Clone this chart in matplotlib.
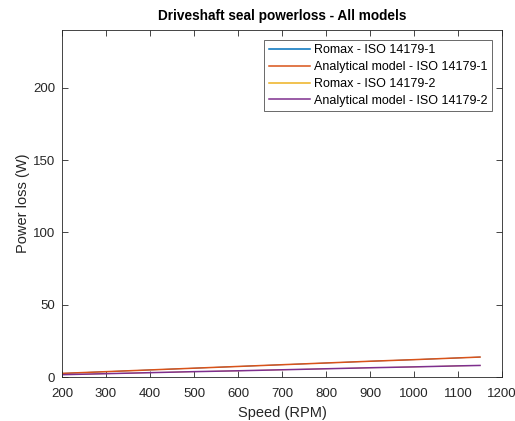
import numpy as np
import matplotlib.pyplot as plt

plt.rcParams['font.family'] = ['Liberation Sans', 'DejaVu Sans']

speed = [200, 300, 400, 500, 600, 700, 800, 900, 1000, 1100, 1150]
romax_1 = [2.5, 3.7, 4.9, 6.1, 7.3, 8.5, 9.7, 10.9, 12.0, 13.2, 13.8]
analytical_1 = [2.5, 3.7, 4.9, 6.1, 7.3, 8.5, 9.7, 10.9, 12.0, 13.2, 13.8]
romax_2 = [1.6, 2.3, 3.0, 3.7, 4.3, 5.0, 5.7, 6.4, 7.0, 7.7, 8.0]
analytical_2 = [1.6, 2.3, 3.0, 3.7, 4.3, 5.0, 5.7, 6.4, 7.0, 7.7, 8.0]

labels = ['Romax - ISO 14179-1', 'Analytical model - ISO 14179-1',
          'Romax - ISO 14179-2', 'Analytical model - ISO 14179-2']
colors = ['#0072BD', '#D95319', '#EDB120', '#7E2F8E']
widths = [0.6, 1.1, 0.6, 1.1]

fig = plt.figure(figsize=(5.15, 4.21), dpi=100)
ax = fig.add_axes([0.1204, 0.1045, 0.8544, 0.8242])

for y, lab, c, w in zip([romax_1, analytical_1, romax_2, analytical_2], labels, colors, widths):
    ax.plot(speed, y, color=c, lw=w, label=lab)

ax.set_xlim(200, 1200)
ax.set_ylim(0, 240)
ax.set_xticks(np.arange(200, 1201, 100))
ax.set_yticks([0, 50, 100, 150, 200])
ax.tick_params(direction='in', top=True, right=True, length=4, width=0.6,
               labelsize=9.5, colors='#262626')
ax.tick_params(axis='x', pad=8)
ax.tick_params(axis='y', pad=5)
for s in ax.spines.values():
    s.set_linewidth(0.6)
    s.set_color('#262626')

ax.set_xlabel('Speed (RPM)', fontsize=10.5, color='#262626', labelpad=4)
ax.set_ylabel('Power loss (W)', fontsize=10.5, color='#262626', labelpad=2)
ax.set_title('Driveshaft seal powerloss - All models', fontsize=9.8,
             fontweight='bold', pad=7)

leg = ax.legend(loc='upper right', fontsize=9, frameon=True, fancybox=False,
                edgecolor='#262626', handlelength=3.3, handletextpad=0.35,
                labelspacing=0.38, borderpad=0.35, borderaxespad=0.8)
leg.get_frame().set_linewidth(0.6)
for h in leg.get_lines():
    h.set_linewidth(1.1)

plt.savefig('out.png')
